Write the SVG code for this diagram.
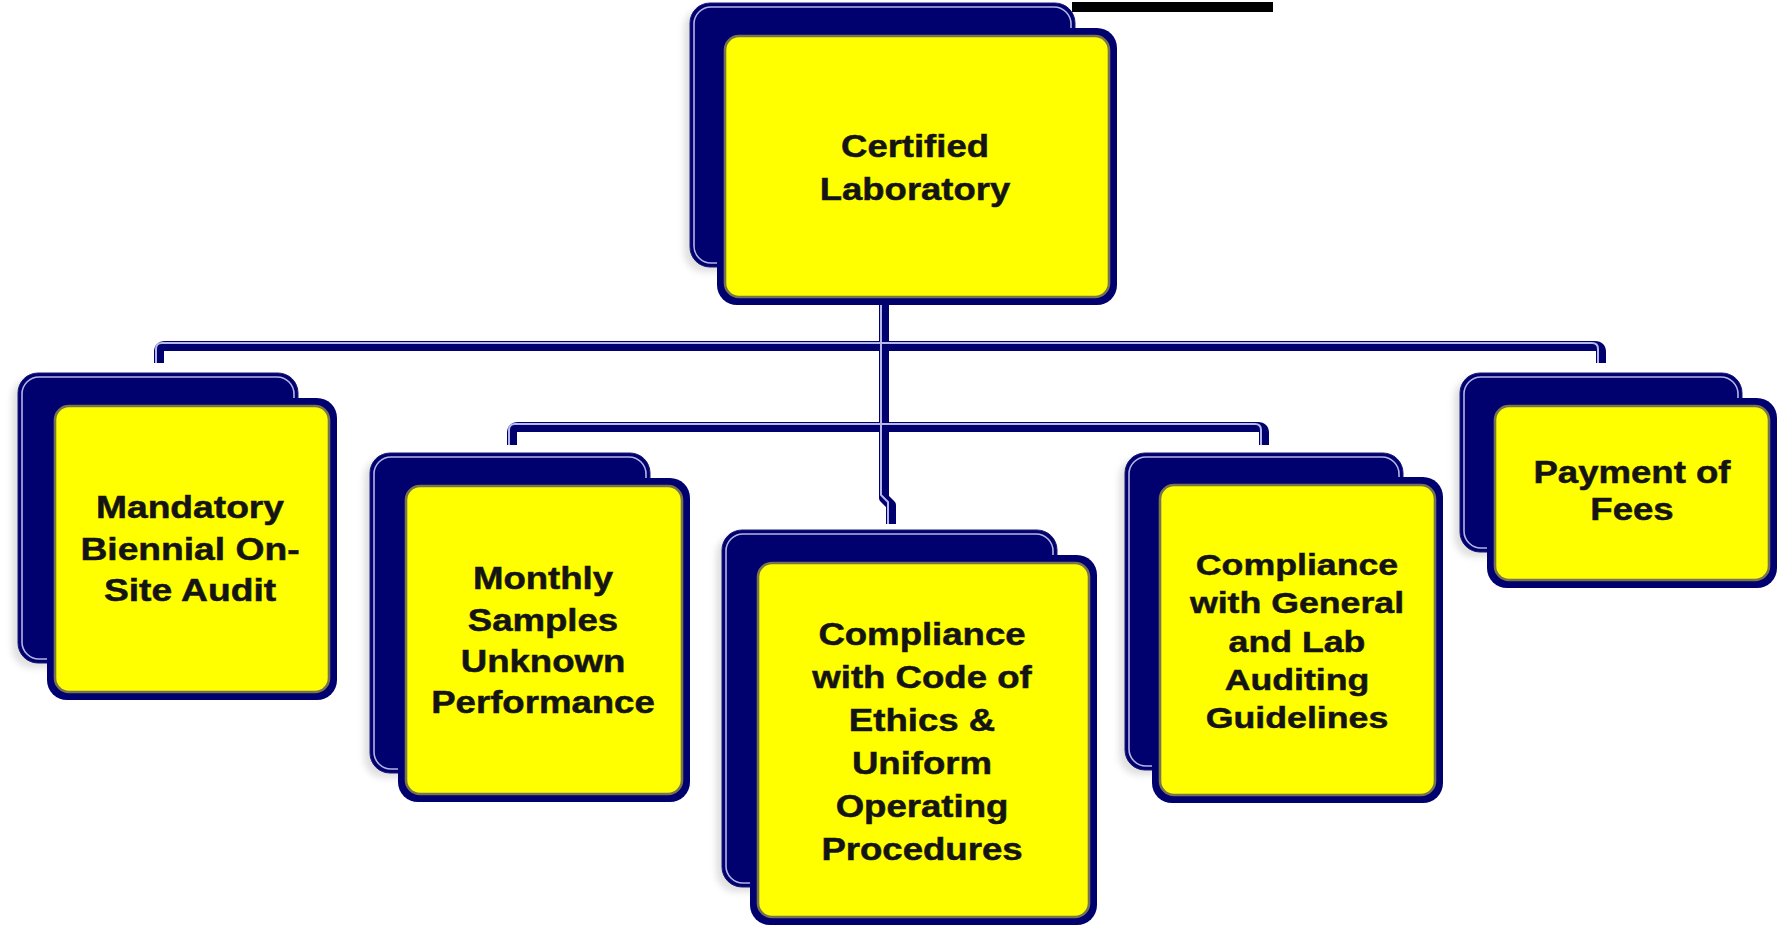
<svg xmlns="http://www.w3.org/2000/svg" width="1785" height="926" viewBox="0 0 1785 926">
<style>
.glow{fill:#c8c8c8;opacity:.55;filter:url(#blur)}
.back{fill:#00006e;stroke:#1a1a78;stroke-width:1}
.backline{fill:none;stroke:#b4b4e6;stroke-width:1.6}
.frame{fill:#00006e}
.face{fill:#ffff00;stroke:#77744e;stroke-width:2.6}
.lbl{font-family:"Liberation Sans",Arial,sans-serif;font-weight:bold;fill:#141414;stroke:#141414;stroke-width:0.5;text-anchor:middle}
.wire{fill:none;stroke:#00006e;stroke-width:10;stroke-linejoin:round}
.wirehi{fill:none;stroke:#b8b8e8;stroke-width:2;stroke-linejoin:round}
</style>
<defs>
<filter id="blur" x="-10%" y="-10%" width="120%" height="120%"><feGaussianBlur stdDeviation="3"/></filter>
</defs>
<rect width="1785" height="926" fill="#ffffff"/>
<rect x="1072" y="2" width="201" height="10" fill="#000000"/>

<g id="connectors">
<path class="wire" d="M884,305 V498 L891,505 V524"/>
<path class="wire" d="M159,363 V352 Q159,346 165,346 H1595 Q1601,346 1601,352 V363"/>
<path class="wire" d="M512,445 V433 Q512,427 518,427 H1258 Q1264,427 1264,433 V445"/>
<g transform="translate(-3,-3)">
<path class="wirehi" d="M884,308 V498 L891,505 V527"/>
<path class="wirehi" d="M159,366 V352 Q159,346 165,346 H1595 Q1601,346 1601,352 V366"/>
<path class="wirehi" d="M512,448 V433 Q512,427 518,427 H1258 Q1264,427 1264,433 V448"/>
</g>
</g>

<g id="node-certified">
<rect class="glow" x="684" y="8" width="385" height="264" rx="20"/>
<rect class="back" x="690" y="3" width="385" height="264" rx="20"/>
<rect class="backline" x="694" y="7" width="377" height="256" rx="17"/>
<rect class="frame" x="717" y="28" width="400" height="277" rx="20"/>
<rect class="face" x="725" y="36" width="384" height="261" rx="14"/>
<text class="lbl" font-size="32" transform="translate(915,0) scale(1.14,1)"><tspan x="0" y="157">Certified</tspan><tspan x="0" y="200">Laboratory</tspan></text>
</g>

<g id="node-audit">
<rect class="glow" x="12" y="378" width="280" height="290" rx="20"/>
<rect class="back" x="18" y="373" width="280" height="290" rx="20"/>
<rect class="backline" x="22" y="377" width="272" height="282" rx="17"/>
<rect class="frame" x="47" y="398" width="290" height="302" rx="20"/>
<rect class="face" x="55" y="406" width="274" height="286" rx="14"/>
<text class="lbl" font-size="31" transform="translate(190,0) scale(1.2,1)"><tspan x="0" y="518">Mandatory</tspan><tspan x="0" y="560">Biennial On-</tspan><tspan x="0" y="601">Site Audit</tspan></text>
</g>

<g id="node-monthly">
<rect class="glow" x="364" y="458" width="280" height="320" rx="20"/>
<rect class="back" x="370" y="453" width="280" height="320" rx="20"/>
<rect class="backline" x="374" y="457" width="272" height="312" rx="17"/>
<rect class="frame" x="398" y="478" width="292" height="324" rx="20"/>
<rect class="face" x="406" y="486" width="276" height="308" rx="14"/>
<text class="lbl" font-size="31" transform="translate(543,0) scale(1.18,1)"><tspan x="0" y="589">Monthly</tspan><tspan x="0" y="631">Samples</tspan><tspan x="0" y="672">Unknown</tspan><tspan x="0" y="713">Performance</tspan></text>
</g>

<g id="node-ethics">
<rect class="glow" x="716" y="535" width="335" height="357" rx="20"/>
<rect class="back" x="722" y="530" width="335" height="357" rx="20"/>
<rect class="backline" x="726" y="534" width="327" height="349" rx="17"/>
<rect class="frame" x="750" y="555" width="347" height="370" rx="20"/>
<rect class="face" x="758" y="563" width="331" height="354" rx="14"/>
<text class="lbl" font-size="31" transform="translate(922,0) scale(1.18,1)"><tspan x="0" y="645">Compliance</tspan><tspan x="0" y="688">with Code of</tspan><tspan x="0" y="731">Ethics &amp;</tspan><tspan x="0" y="774">Uniform</tspan><tspan x="0" y="817">Operating</tspan><tspan x="0" y="860">Procedures</tspan></text>
</g>

<g id="node-guidelines">
<rect class="glow" x="1119" y="458" width="278" height="317" rx="20"/>
<rect class="back" x="1125" y="453" width="278" height="317" rx="20"/>
<rect class="backline" x="1129" y="457" width="270" height="309" rx="17"/>
<rect class="frame" x="1152" y="477" width="291" height="326" rx="20"/>
<rect class="face" x="1160" y="485" width="275" height="310" rx="14"/>
<text class="lbl" font-size="30" transform="translate(1297,0) scale(1.19,1)"><tspan x="0" y="575">Compliance</tspan><tspan x="0" y="613">with General</tspan><tspan x="0" y="652">and Lab</tspan><tspan x="0" y="690">Auditing</tspan><tspan x="0" y="728">Guidelines</tspan></text>
</g>

<g id="node-fees">
<rect class="glow" x="1454" y="378" width="282" height="179" rx="20"/>
<rect class="back" x="1460" y="373" width="282" height="179" rx="20"/>
<rect class="backline" x="1464" y="377" width="274" height="171" rx="17"/>
<rect class="frame" x="1487" y="398" width="290" height="190" rx="20"/>
<rect class="face" x="1495" y="406" width="274" height="174" rx="14"/>
<text class="lbl" font-size="31" transform="translate(1632,0) scale(1.18,1)"><tspan x="0" y="483">Payment of</tspan><tspan x="0" y="520">Fees</tspan></text>
</g>
</svg>
